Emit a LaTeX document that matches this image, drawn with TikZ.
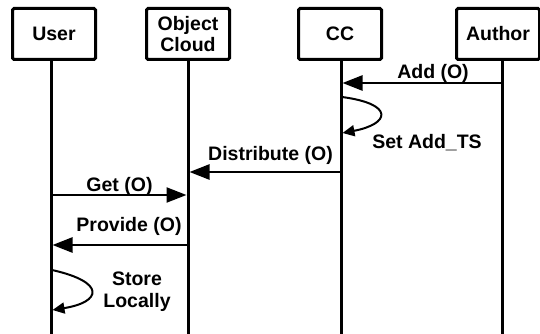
\documentclass[tikz,border=0pt]{standalone}
\usepackage{fontspec}
\setmainfont{Liberation Sans}
\usetikzlibrary{arrows.meta}
\begin{document}
\begin{tikzpicture}[x=1pt,y=-1pt,
  font=\fontsize{19.5}{22}\selectfont\bfseries,
  actor/.style={draw,line width=3pt,rounded corners=1.5pt,minimum width=83pt,minimum height=51pt,inner sep=0pt,align=center},
  lifeline/.style={line width=3pt},
  msg/.style={line width=2.6pt,-{Triangle[length=20pt,width=15pt]}},
  selfmsg/.style={line width=2pt,-{Triangle[length=12pt,width=11pt]}},
  lbl/.style={anchor=base,inner sep=0pt}]
\useasboundingbox (0,0) rectangle (540,334);

% participants
\node[actor] (user)   at (54,34)  {User};
\node[actor] (cloud)  at (188,34) {Object\\[-1pt]Cloud};
\node[actor] (cc)     at (340,34) {CC};
\node[actor] (author) at (498,34) {Author};

% lifelines
\coordinate (userTop)   at (51,60);   \coordinate (userEnd)   at (51,334);
\coordinate (cloudTop)  at (188,60);  \coordinate (cloudEnd)  at (188,334);
\coordinate (ccTop)     at (341,60);  \coordinate (ccEnd)     at (341,334);
\coordinate (authorTop) at (502,60);  \coordinate (authorEnd) at (502,334);
\draw[lifeline] (userTop) -- (userEnd);
\draw[lifeline] (cloudTop) -- (cloudEnd);
\draw[lifeline] (ccTop) -- (ccEnd);
\draw[lifeline] (authorTop) -- (authorEnd);

% message end points on the lifelines
\coordinate (addFrom)  at (502,83);  \coordinate (addTo)  at (342.5,83);
\coordinate (setFrom)  at (342,97);  \coordinate (setTo)  at (342.5,133);
\coordinate (distFrom) at (341,172); \coordinate (distTo) at (189.5,172);
\coordinate (getFrom)  at (51,195);  \coordinate (getTo)  at (186.5,195);
\coordinate (provFrom) at (188,245); \coordinate (provTo) at (52.5,245);
\coordinate (storeFrom) at (52,270); \coordinate (storeTo) at (52.5,310);

% messages
\draw[msg] (addFrom) -- (addTo);
\node[lbl] (addLbl) at (433,79) {Add (O)};

\draw[selfmsg] (setFrom) .. controls (395,104) and (390,124) .. (setTo);
\node[lbl] (setLbl) at (427,148) {Set Add\_TS};

\draw[msg] (distFrom) -- (distTo);
\node[lbl] (distLbl) at (270.5,160) {Distribute (O)};

\draw[msg,line width=2.2pt] (getFrom) -- (getTo);
\node[lbl] (getLbl) at (119.5,191) {Get (O)};

\draw[msg] (provFrom) -- (provTo);
\node[lbl] (provLbl) at (129,231) {Provide (O)};

\draw[selfmsg] (storeFrom) .. controls (106,282) and (102,302) .. (storeTo);
\node[lbl] (storeLbl1) at (137,285) {Store};
\node[lbl] (storeLbl2) at (137,307) {Locally};
\end{tikzpicture}
\end{document}
